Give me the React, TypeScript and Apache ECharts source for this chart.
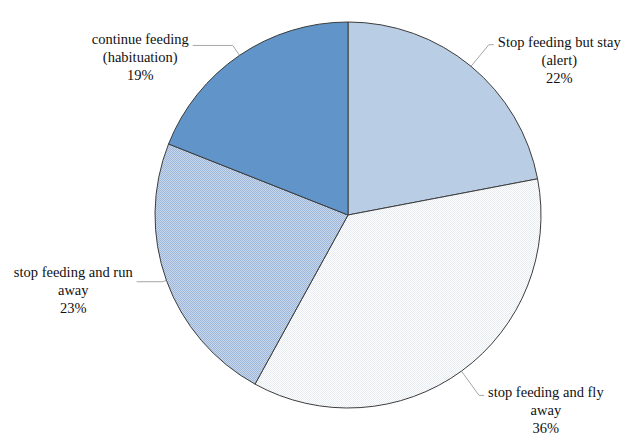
import React, { useEffect, useRef } from 'react';
import * as echarts from 'echarts';

const categories = [
  'Stop feeding but stay\n(alert)',
  'stop feeding and fly\naway',
  'stop feeding and run\naway',
  'continue feeding\n(habituation)',
];
const values = [22, 36, 23, 19];

function makePattern(base: string, dot: string) {
  const c = document.createElement('canvas');
  c.width = 2;
  c.height = 2;
  const ctx = c.getContext('2d')!;
  ctx.fillStyle = base;
  ctx.fillRect(0, 0, 2, 2);
  ctx.fillStyle = dot;
  ctx.fillRect(0, 0, 1, 1);
  ctx.fillRect(1, 1, 1, 1);
  return { image: c, repeat: 'repeat', imageWidth: 2, imageHeight: 2 } as any;
}

export default function App() {
  const ref = useRef<HTMLDivElement>(null);
  useEffect(() => {
    if (!ref.current) return;
    const chart = echarts.init(ref.current, null, { renderer: 'svg' });
    const fills = [
      '#b9cde5',
      makePattern('#ffffff', '#e7ecf3'),
      makePattern('#c7d7eb', '#9fb8d9'),
      '#6195c9',
    ];
    const lineLens = [
      [28, 5],
      [30, 5],
      [4, 26],
      [12, 40],
    ];
    const labelPads = [30, 30, 16, 24];
    const font = '"Liberation Serif", "Times New Roman", serif';
    chart.setOption({
      animation: false,
      backgroundColor: '#ffffff',
      series: [
        {
          type: 'pie',
          center: [348, 215],
          radius: 193,
          startAngle: 90,
          clockwise: true,
          avoidLabelOverlap: false,
          itemStyle: { borderColor: '#3c3c3c', borderWidth: 1 },
          emphasis: { disabled: true },
          label: {
            show: true,
            position: 'outside',
            fontFamily: font,
            fontSize: 14.5,
            color: '#111111',
            lineHeight: 18,
            padding: [30, 0, 0, 0],
            bleedMargin: -40,
            distanceToLabelLine: 4,
            formatter: (p: any) => {
              const lines = String(p.name).split('\n');
              lines.push(Math.round(p.percent) + '%');
              return lines.map((l) => `{c|${l}}`).join('\n');
            },
            rich: {
              c: {
                align: 'center',
                fontFamily: font,
                fontSize: 14.5,
                lineHeight: 18,
                color: '#111111',
              },
            },
          },
          labelLine: {
            show: true,
            lineStyle: { color: '#a6a6a6', width: 1 },
          },
          data: categories.map((name, i) => ({
            name,
            value: values[i],
            itemStyle: { color: fills[i] },
            label: { padding: [labelPads[i], 0, 0, 0] },
            labelLine: { length: lineLens[i][0], length2: lineLens[i][1] },
          })),
        },
      ],
    });
    return () => chart.dispose();
  }, []);
  return (
    <div
      ref={ref}
      style={{ position: 'absolute', left: 0, top: 0, width: 622, height: 439 }}
    />
  );
}
